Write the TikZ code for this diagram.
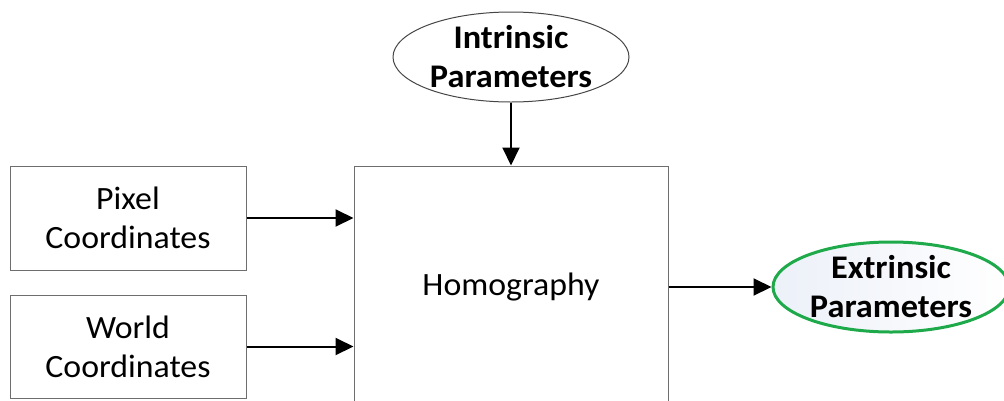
\documentclass[tikz,border=0pt]{standalone}
\usepackage{fontspec}
\setmainfont{Carlito}[FakeStretch=1.04]
\usetikzlibrary{arrows.meta,shapes.geometric}
\definecolor{boxgray}{RGB}{110,110,110}
\definecolor{ellgray}{RGB}{70,70,70}
\definecolor{okgreen}{RGB}{30,170,75}
\definecolor{paleblue}{RGB}{236,240,248}
\tikzset{
  blockbox/.style={draw=boxgray, line width=1pt, fill=white, inner sep=0pt,
    font=\fontsize{32.5}{39}\selectfont, align=center},
  ellshape/.style={ellipse, inner sep=0pt, minimum width=236pt, minimum height=90pt},
  elltext/.style={font=\fontsize{33}{39}\selectfont\bfseries, align=center, inner sep=0pt},
  arr/.style={line width=2pt, -{Triangle[length=18pt,width=17pt]}},
}
\begin{document}
\begin{tikzpicture}[x=1pt,y=-1pt]
\useasboundingbox (0,0) rectangle (1004,400);
\clip (0,0) rectangle (1004,400);
\node[blockbox, minimum width=236pt, minimum height=104pt] (pix) at (128,218) {Pixel\\Coordinates};
\node[blockbox, minimum width=236pt, minimum height=103pt] (wld) at (128,346.5) {World\\Coordinates};
\node[blockbox, minimum width=314pt, minimum height=242pt] (hom) at (511,287) {Homography};
\node[ellshape, draw=ellgray, line width=1pt, fill=white] (intr) at (511,57) {};
\node[elltext] (intrt) at (intr.center) {Intrinsic\\Parameters};
\node[ellshape, draw=okgreen, line width=3pt, left color=paleblue, right color=white] (extr) at (891,287) {};
\node[elltext] (extrt) at (extr.center) {Extrinsic\\Parameters};
\draw[arr] (pix.east) -- (pix.east -| hom.west);
\draw[arr] (wld.east) -- (wld.east -| hom.west);
\draw[arr] (intr.south) -- (hom.north);
\draw[arr] (hom.east) -- (extr.west);
\end{tikzpicture}
\end{document}
